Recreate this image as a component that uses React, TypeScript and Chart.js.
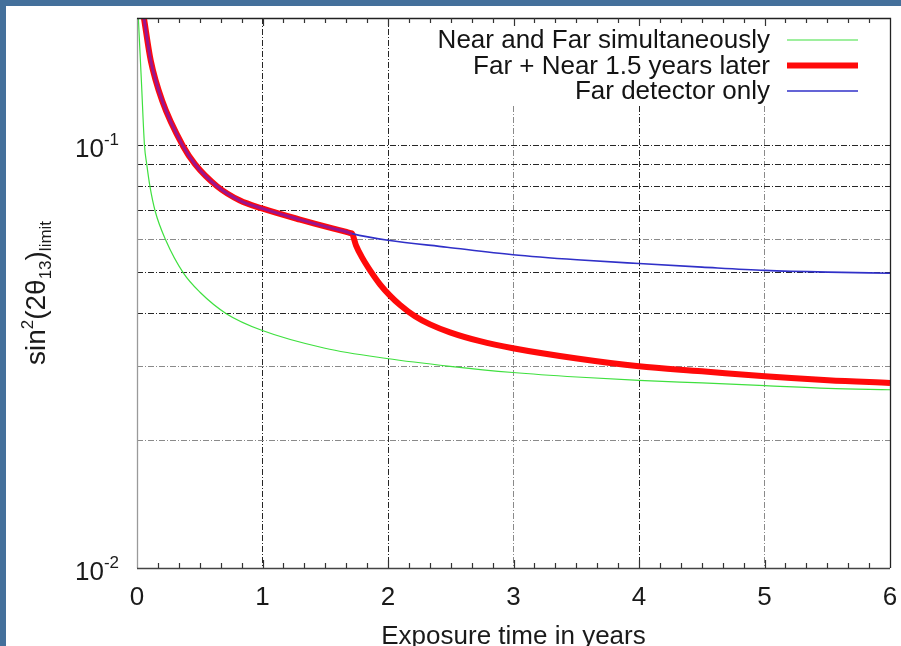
import { useEffect, useRef } from 'react';
import { Chart, registerables } from 'chart.js';

Chart.register(...registerables);

const FONT = '"Liberation Sans", Arial, Helvetica, sans-serif';

// ---- data ----
const greenT = [0.0104, 0.0351, 0.0598, 0.0781, 0.1028, 0.145, 0.2295, 0.3689, 0.502, 0.7147, 0.9936, 1.498, 1.99, 2.494, 2.996, 3.506, 4.0, 4.502, 5.004, 5.506, 6.0];
const greenV = [0.2007, 0.1417, 0.0997, 0.09, 0.08, 0.0698, 0.0596, 0.0499, 0.0449, 0.0399, 0.0365, 0.0331, 0.0313, 0.03, 0.029, 0.0283, 0.0278, 0.0274, 0.027, 0.0266, 0.0264];

const redT = [0.0558, 0.1092, 0.1992, 0.3665, 0.4622, 0.6375, 0.8207, 0.996, 1.299, 1.566, 1.66, 1.705, 1.713, 1.745, 1.793, 1.857, 1.936, 2.016, 2.096, 2.215, 2.335, 2.494, 2.733, 2.996, 3.506, 4.0, 4.502, 5.004, 5.506, 6.0];
const redV = [0.1995, 0.1588, 0.1278, 0.0996, 0.0902, 0.08, 0.074, 0.0709, 0.0667, 0.0635, 0.0625, 0.0619, 0.0618, 0.058, 0.0543, 0.0506, 0.0469, 0.0441, 0.0419, 0.0394, 0.0377, 0.0361, 0.0344, 0.0331, 0.0313, 0.03, 0.0292, 0.0284, 0.0278, 0.0274];

const blueT = [0.0558, 0.1092, 0.1992, 0.3665, 0.4622, 0.6375, 0.8207, 0.996, 1.299, 1.566, 1.66, 1.705, 1.713, 2.0, 2.47, 2.996, 3.506, 4.0, 4.502, 5.004, 5.506, 6.0];
const blueV = [0.1995, 0.1588, 0.1278, 0.0996, 0.0902, 0.08, 0.074, 0.0709, 0.0667, 0.0635, 0.0625, 0.0619, 0.0618, 0.0596, 0.0574, 0.0551, 0.0536, 0.0525, 0.0515, 0.0506, 0.0501, 0.0498];

// the near detector starts here (red and blue coincide before it)
const nearStart = 1.713;

const xMin = 0;
const xMax = 6;
const xMinorPerUnit = 6;
const yMin = 0.01;
const yMax = 0.2;
const yGridValues = [0.01, 0.02, 0.03, 0.04, 0.05, 0.06, 0.07, 0.08, 0.09, 0.1, 0.2];
const yLightGrid = [0.02, 0.03, 0.06];
const xLightGrid = [3, 5];
const yLabelValues = [0.01, 0.1];
const yLabelExponents = ['-2', '-1'];

const legendLabels = ['Near and Far simultaneously', 'Far + Near 1.5 years later', 'Far detector only'];
const xTitle = 'Exposure time in years';

const GREEN = '#3fe03f';
const RED = '#ff0a0a';
const BLUE = '#3030c8';
const OVERLAP = '#9a148e';

const near = (a: number, b: number) => Math.abs(a - b) < 1e-9;

const overlayPlugin = {
  id: 'overlay',
  beforeDatasetsDraw(chart: any) {
    const { ctx, chartArea: a } = chart;
    ctx.save();
    ctx.fillStyle = '#ffffff';
    ctx.fillRect(a.right - 470, a.top + 1, 469, 86);
    ctx.restore();
  },
  afterDatasetsDraw(chart: any) {
    const { ctx, chartArea: a, scales } = chart;
    const xs = scales.x;
    ctx.save();
    // frame
    ctx.lineWidth = 1.3;
    ctx.strokeStyle = '#9a9a9a';
    ctx.beginPath();
    ctx.moveTo(a.left + 0.5, a.top);
    ctx.lineTo(a.left + 0.5, a.bottom);
    ctx.stroke();
    ctx.strokeStyle = '#444';
    ctx.beginPath();
    ctx.moveTo(a.left, a.bottom + 0.5);
    ctx.lineTo(a.right, a.bottom + 0.5);
    ctx.stroke();
    ctx.strokeStyle = '#222';
    ctx.beginPath();
    ctx.moveTo(a.left, a.top + 0.5);
    ctx.lineTo(a.right + 0.5, a.top + 0.5);
    ctx.lineTo(a.right + 0.5, a.bottom);
    ctx.stroke();
    // x minor ticks (inward, bottom and top)
    ctx.strokeStyle = '#333';
    ctx.lineWidth = 1.2;
    const n = (xMax - xMin) * xMinorPerUnit;
    for (let k = 1; k < n; k++) {
      const v = xMin + k / xMinorPerUnit;
      const px = Math.round(xs.getPixelForValue(v)) + 0.5;
      const len = k % xMinorPerUnit === 0 ? 8 : 5;
      ctx.beginPath();
      ctx.moveTo(px, a.bottom);
      ctx.lineTo(px, a.bottom - len);
      ctx.moveTo(px, a.top);
      ctx.lineTo(px, a.top + len);
      ctx.stroke();
    }
    // legend
    const colors = [GREEN, RED, BLUE];
    const widths = [1.2, 6, 1.6];
    ctx.font = `26px ${FONT}`;
    ctx.fillStyle = '#141414';
    ctx.textAlign = 'right';
    ctx.textBaseline = 'middle';
    legendLabels.forEach((lab, i) => {
      const y = a.top + 22 + i * 25.5;
      ctx.fillText(lab, a.right - 120, y + 1);
      ctx.strokeStyle = colors[i];
      ctx.lineWidth = widths[i];
      ctx.beginPath();
      ctx.moveTo(a.right - 103, y);
      ctx.lineTo(a.right - 32, y);
      ctx.stroke();
    });
    ctx.restore();
  },
  afterDraw(chart: any) {
    const { ctx, chartArea: a, scales } = chart;
    const ys = scales.y;
    ctx.save();
    ctx.fillStyle = '#1a1a1a';
    ctx.textBaseline = 'alphabetic';
    ctx.textAlign = 'left';
    // y tick labels 10^-n
    yLabelValues.forEach((v, i) => {
      const py = ys.getPixelForValue(v);
      ctx.font = `17px ${FONT}`;
      const sw = ctx.measureText(yLabelExponents[i]).width;
      ctx.font = `26px ${FONT}`;
      const mw = ctx.measureText('10').width;
      const right = a.left - 18;
      ctx.fillText('10', right - sw - mw, py + 12);
      ctx.font = `17px ${FONT}`;
      ctx.fillText(yLabelExponents[i], right - sw, py);
    });
    // y title: sin²(2θ13)limit
    const parts = [
      { t: 'sin', s: 28, dy: 0 },
      { t: '2', s: 17, dy: -12 },
      { t: '(2θ', s: 28, dy: 0 },
      { t: '13', s: 17, dy: 6 },
      { t: ')', s: 28, dy: 0 },
      { t: 'limit', s: 17, dy: 6 },
    ];
    let total = 0;
    parts.forEach((p) => {
      ctx.font = `${p.s}px ${FONT}`;
      total += ctx.measureText(p.t).width;
    });
    ctx.translate(39, (a.top + a.bottom) / 2);
    ctx.rotate(-Math.PI / 2);
    let x = -total / 2;
    parts.forEach((p) => {
      ctx.font = `${p.s}px ${FONT}`;
      ctx.fillText(p.t, x, p.dy);
      x += ctx.measureText(p.t).width;
    });
    ctx.restore();
  },
};

export default function App() {
  const ref = useRef<HTMLCanvasElement | null>(null);
  useEffect(() => {
    document.body.style.margin = '0';
    const canvas = ref.current!;
    const mk = (t: number[], v: number[]) => t.map((x, i) => ({ x, y: v[i] }));
    const overlapped = (c: any) => c.p1 && c.p1.parsed.x <= nearStart + 1e-9;
    const chart = new Chart(canvas, {
      type: 'line',
      data: {
        datasets: [
          {
            label: legendLabels[2],
            data: mk(blueT, blueV),
            borderColor: BLUE,
            borderWidth: 1.6,
            pointRadius: 0,
            cubicInterpolationMode: 'monotone',
            order: 0,
            segment: {
              borderColor: (c: any) => (overlapped(c) ? OVERLAP : BLUE),
              borderWidth: (c: any) => (overlapped(c) ? 3 : 1.6),
            },
          },
          {
            label: legendLabels[1],
            data: mk(redT, redV),
            borderColor: RED,
            borderWidth: 6,
            pointRadius: 0,
            cubicInterpolationMode: 'monotone',
            order: 1,
          },
          {
            label: legendLabels[0],
            data: mk(greenT, greenV),
            borderColor: GREEN,
            borderWidth: 1.2,
            pointRadius: 0,
            cubicInterpolationMode: 'monotone',
            order: 2,
          },
        ],
      },
      options: {
        animation: false,
        responsive: false,
        devicePixelRatio: 1,
        layout: { padding: { top: 12, right: 11, left: 0, bottom: 0 } },
        plugins: { legend: { display: false }, tooltip: { enabled: false } },
        scales: {
          x: {
            type: 'linear',
            min: xMin,
            max: xMax,
            afterFit: (s: any) => {
              s.height = 98;
              s.paddingLeft = 0;
              s.paddingRight = 0;
            },
            ticks: {
              stepSize: 1,
              padding: 14,
              font: { family: FONT, size: 26 },
              color: '#1a1a1a',
              maxRotation: 0,
              autoSkip: false,
            },
            grid: {
              drawTicks: false,
              lineWidth: 1,
              color: (c: any) => {
                const v = c.tick ? c.tick.value : NaN;
                if (near(v, xMin) || near(v, xMax)) return 'rgba(0,0,0,0)';
                return xLightGrid.some((g) => near(g, v)) ? '#8a8a8a' : '#262626';
              },
            },
            border: { display: false, dash: [6, 2, 1, 2] },
            title: {
              display: true,
              text: xTitle,
              font: { family: FONT, size: 26 },
              color: '#1a1a1a',
              padding: { top: 0, bottom: 14 },
            },
          },
          y: {
            type: 'logarithmic',
            min: yMin,
            max: yMax,
            afterFit: (s: any) => {
              s.width = 131;
              s.paddingTop = 0;
              s.paddingBottom = 0;
            },
            afterBuildTicks: (s: any) => {
              s.ticks = yGridValues.map((v) => ({ value: v }));
            },
            ticks: { display: false },
            grid: {
              drawTicks: false,
              lineWidth: 1,
              color: (c: any) => {
                const v = c.tick ? c.tick.value : NaN;
                if (near(v, yMin) || near(v, yMax)) return 'rgba(0,0,0,0)';
                return yLightGrid.some((g) => near(g, v)) ? '#8a8a8a' : '#262626';
              },
            },
            border: { display: false, dash: [6, 2, 1, 2] },
          },
        },
      },
      plugins: [overlayPlugin],
    } as any);
    return () => chart.destroy();
  }, []);

  return (
    <div
      style={{
        position: 'fixed',
        left: 0,
        top: 0,
        width: 901,
        height: 646,
        overflow: 'hidden',
        background: '#44709b',
      }}
    >
      <canvas
        ref={ref}
        width={895}
        height={660}
        style={{ position: 'absolute', left: 6, top: 6, width: 895, height: 660, background: '#ffffff', display: 'block' }}
      />
    </div>
  );
}
